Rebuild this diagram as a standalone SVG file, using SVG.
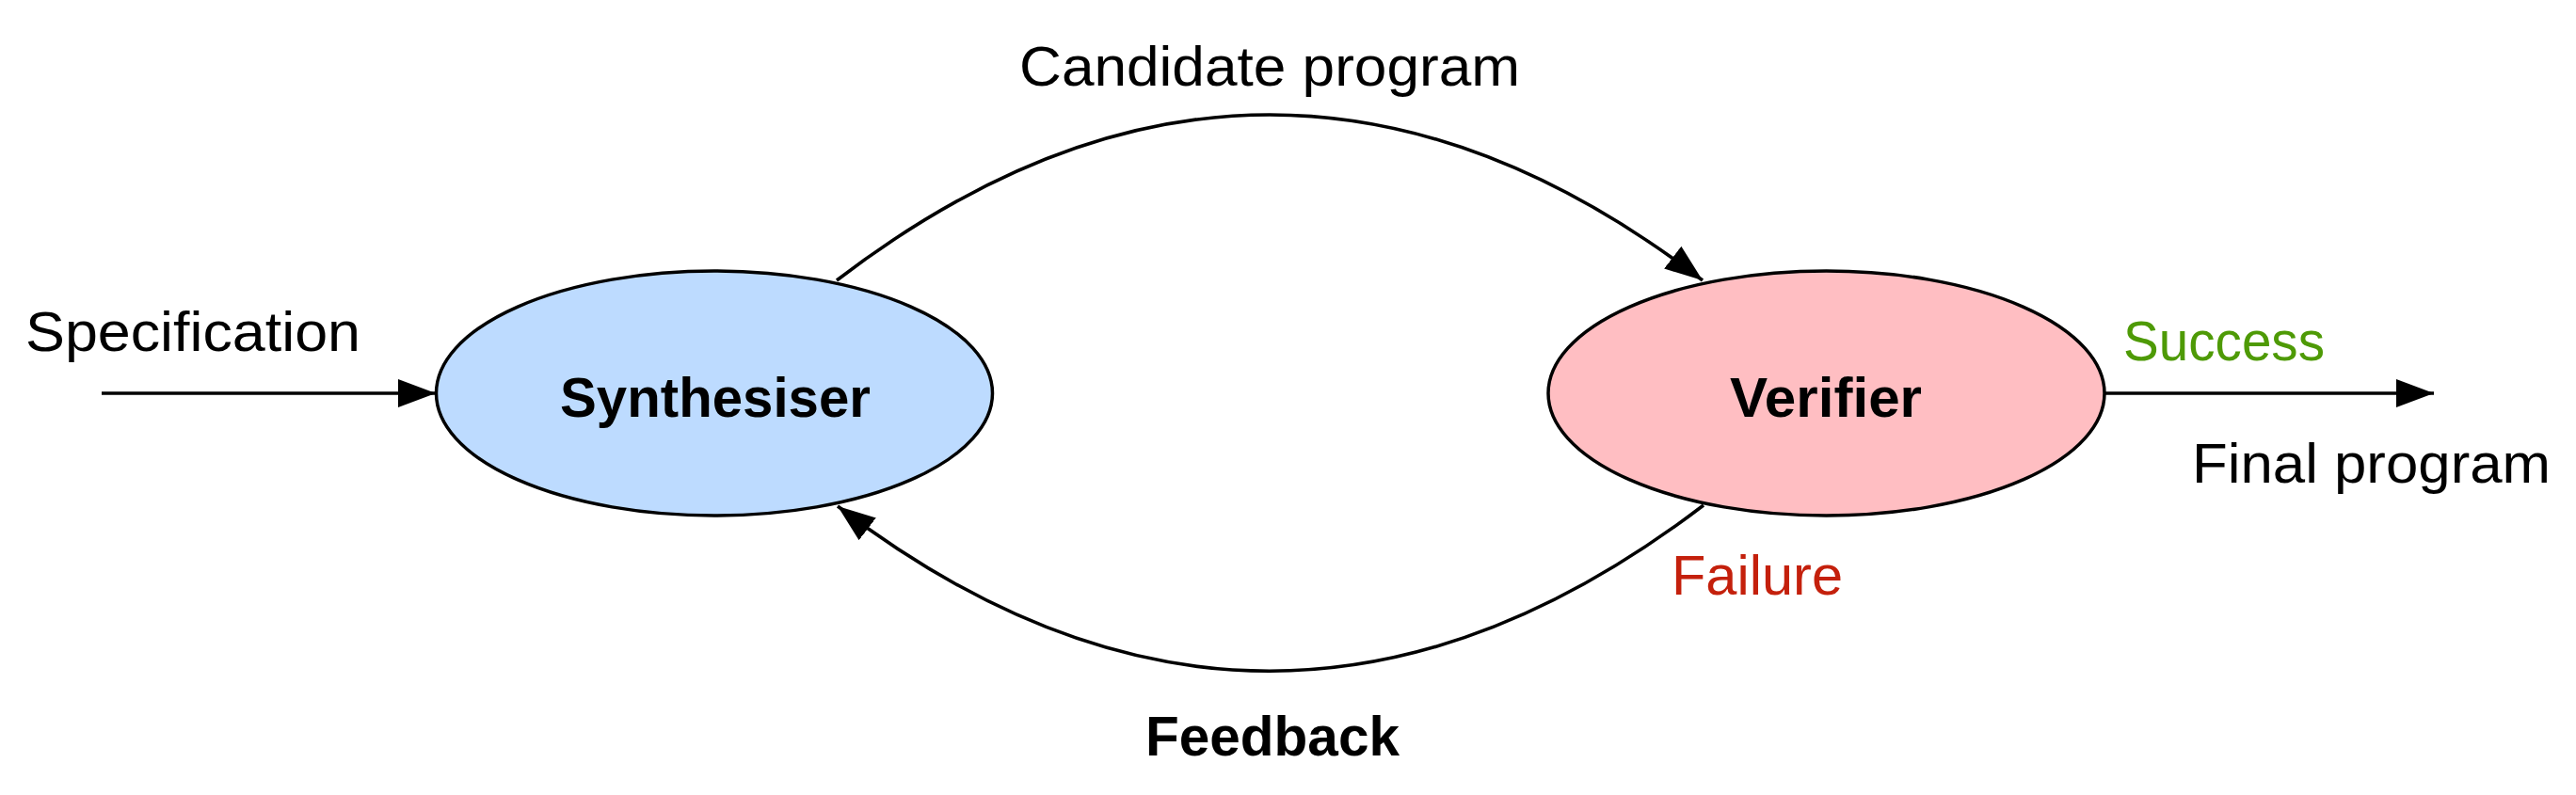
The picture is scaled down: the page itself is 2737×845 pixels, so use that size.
<svg xmlns="http://www.w3.org/2000/svg" width="2737" height="845" viewBox="0 0 2737 845">
  <style>
    .node { stroke: #000; stroke-width: 3.5; }
    .edge { fill: none; stroke: #000; stroke-width: 3.5; }
    .lbl { font-family: "Liberation Sans", Arial, sans-serif; font-size: 60px; fill: #000; }
    .bold { font-weight: bold; }
  </style>
  <defs>
    <marker id="arrow" markerUnits="userSpaceOnUse" markerWidth="42" markerHeight="30" refX="40" refY="15" orient="auto" viewBox="0 0 42 30">
      <path d="M0,0 L40,15 L0,30 z" fill="#000"/>
    </marker>
  </defs>
  <rect width="2737" height="845" fill="#fff"/>

  <g id="connectors">
    <path id="e-spec" class="edge" d="M108,418 L463,418" marker-end="url(#arrow)"/>
    <path id="e-candidate" class="edge" d="M889,298 Q1349,-54 1809,298" marker-end="url(#arrow)"/>
    <path id="e-feedback" class="edge" d="M1810,537 Q1349,889 890,538" marker-end="url(#arrow)"/>
    <path id="e-success" class="edge" d="M2236,418 L2586,418" marker-end="url(#arrow)"/>
  </g>

  <g id="synthesiser">
    <ellipse class="node" cx="759" cy="418" rx="295.5" ry="130" fill="#bddbff"/>
    <text class="lbl bold" x="760" y="443" text-anchor="middle" textLength="330" lengthAdjust="spacingAndGlyphs">Synthesiser</text>
  </g>

  <g id="verifier">
    <ellipse class="node" cx="1940.5" cy="418" rx="295.5" ry="130" fill="#ffbec2"/>
    <text class="lbl bold" x="1940" y="443" text-anchor="middle" textLength="204" lengthAdjust="spacingAndGlyphs">Verifier</text>
  </g>

  <g id="labels">
    <text class="lbl" x="27" y="373" textLength="356" lengthAdjust="spacingAndGlyphs">Specification</text>
    <text class="lbl" x="1349" y="91" text-anchor="middle" textLength="532" lengthAdjust="spacingAndGlyphs">Candidate program</text>
    <text class="lbl" x="2256" y="383" textLength="214" lengthAdjust="spacingAndGlyphs" style="fill:#4e9a06">Success</text>
    <text class="lbl" x="2329" y="513" textLength="381" lengthAdjust="spacingAndGlyphs">Final program</text>
    <text class="lbl" x="1776" y="632" textLength="182" lengthAdjust="spacingAndGlyphs" style="fill:#c4200c">Failure</text>
    <text class="lbl bold" x="1352" y="803" text-anchor="middle" textLength="270" lengthAdjust="spacingAndGlyphs">Feedback</text>
  </g>
</svg>
